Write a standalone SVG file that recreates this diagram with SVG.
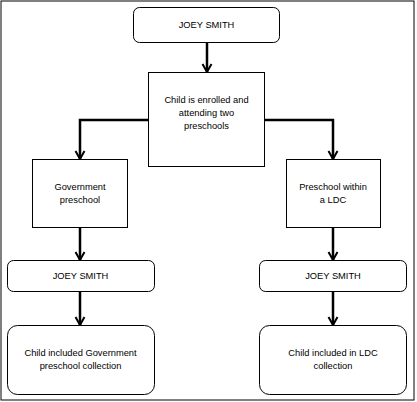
<svg xmlns="http://www.w3.org/2000/svg" width="417" height="402" viewBox="0 0 417 402">
<defs>
<marker id="arr" viewBox="0 0 12 12" refX="11" refY="6" markerWidth="12" markerHeight="12" markerUnits="userSpaceOnUse" orient="auto">
<path d="M3,1.5 L11,6 L3,10.5" fill="none" stroke="#000" stroke-width="2"/>
</marker>
<style>
.b{fill:#fff;stroke:#000;stroke-width:1}
.c{fill:none;stroke:#000;stroke-width:2.5;marker-end:url(#arr)}
text{font-family:"Liberation Sans",Arial,sans-serif;font-size:9.3px;fill:#000;text-anchor:middle}
</style>
</defs>
<rect x="0" y="0" width="417" height="402" fill="#fff"/>
<rect x="1" y="1" width="413" height="399" fill="none" stroke="#000" stroke-width="1"/>
<g id="connectors">
<path class="c" d="M207,42 V72"/>
<path class="c" d="M148,120 H80 V159"/>
<path class="c" d="M264,120 H333 V159"/>
<path class="c" d="M80,227 V260"/>
<path class="c" d="M333,227 V260"/>
<path class="c" d="M80,291 V325"/>
<path class="c" d="M333,291 V325"/>
</g>
<g id="top">
<rect class="b" x="133.5" y="7.5" width="146" height="35" rx="6"/>
<text x="206.5" y="28">JOEY SMITH</text>
</g>
<g id="enrolled">
<rect class="b" x="148.5" y="72.5" width="116" height="94"/>
<text x="206.5" y="103">Child is enrolled and</text>
<text x="206.5" y="116">attending two</text>
<text x="206.5" y="129">preschools</text>
</g>
<g id="gov">
<rect class="b" x="32.5" y="159.5" width="95" height="68"/>
<text x="80" y="190">Government</text>
<text x="80" y="203">preschool</text>
</g>
<g id="ldc">
<rect class="b" x="286.5" y="159.5" width="94" height="68"/>
<text x="333" y="190">Preschool within</text>
<text x="333" y="203">a LDC</text>
</g>
<g id="joey-left">
<rect class="b" x="7.5" y="260.5" width="147" height="31" rx="6"/>
<text x="80.5" y="279">JOEY SMITH</text>
</g>
<g id="joey-right">
<rect class="b" x="259.5" y="260.5" width="147" height="31" rx="6"/>
<text x="333" y="279">JOEY SMITH</text>
</g>
<g id="gov-collection">
<rect class="b" x="7.5" y="325.5" width="147" height="69" rx="10"/>
<text x="80.5" y="356">Child included Government</text>
<text x="80.5" y="369">preschool collection</text>
</g>
<g id="ldc-collection">
<rect class="b" x="259.5" y="325.5" width="147" height="69" rx="10"/>
<text x="333" y="356">Child included in LDC</text>
<text x="333" y="369">collection</text>
</g>
</svg>
